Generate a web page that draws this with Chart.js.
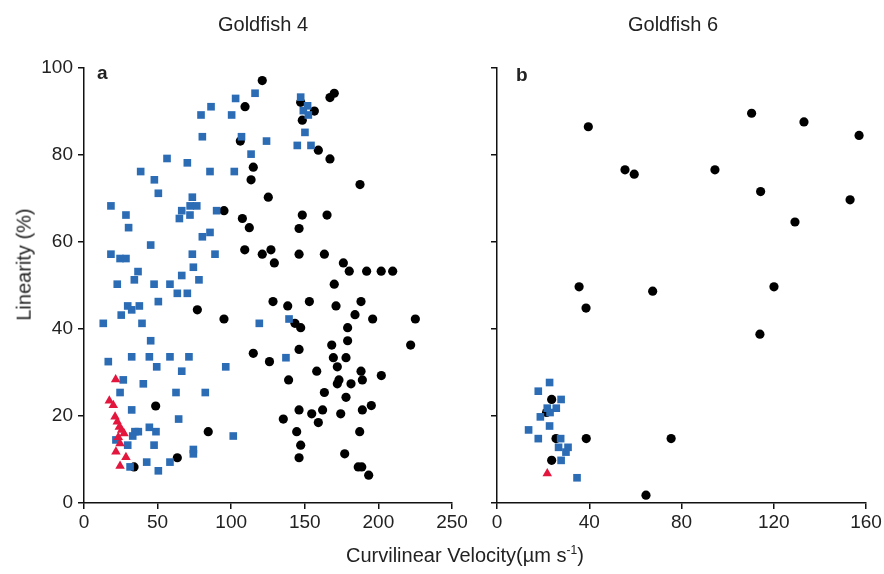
<!DOCTYPE html>
<html>
<head>
<meta charset="utf-8">
<script src="https://cdn.jsdelivr.net/npm/chart.js@4"></script>
<style>
  body { margin: 0; background: #fff; font-family: 'Liberation Sans', Arial, sans-serif; color: #222; }
  #wrap { position: relative; width: 884px; height: 574px; overflow: hidden; }
  canvas { position: absolute; top: 0; }
  .txt { position: absolute; white-space: nowrap; }
</style>
</head>
<body>
<div id="wrap">
  <canvas id="chartA" width="470" height="574" style="left:0"></canvas>
  <canvas id="chartB" width="414" height="574" style="left:470px"></canvas>
  <div class="txt" style="left:218px;top:13px;font-size:20px">Goldfish 4</div>
  <div class="txt" style="left:628px;top:13px;font-size:20px">Goldfish 6</div>
  <div class="txt" style="left:97px;top:62px;font-size:19px;font-weight:bold">a</div>
  <div class="txt" style="left:516px;top:64px;font-size:19px;font-weight:bold">b</div>
  <div class="txt" style="left:-32px;top:253px;font-size:20px;transform:rotate(-90deg);transform-origin:center">Linearity (%)</div>
  <div class="txt" style="left:346px;top:543px;font-size:20px">Curvilinear Velocity(µm s<sup style="font-size:12px">-1</sup>)</div>
</div>
<script>
// Goldfish 4 (panel a): [velocity, linearity]
var gf4Black = [
  [121.1,97.1],[109.4,91.1],[106.2,83.2],[115,77.2],[113.5,74.3],[125.2,70.3],[95.1,67.2],[107.6,65.4],
  [170,94.2],[167.1,93.2],[147.2,92.1],[156.5,90.1],[148.3,88],[159.2,81.1],[167.1,79.1],[187.5,73.2],
  [148.3,66.2],[165.1,66.2],[112.3,63.3],[109.2,58.2],[121.1,57.2],[77,44.4],[95.1,42.3],[115,34.4],
  [146.1,63.1],[127,58.2],[129.3,55.2],[146.1,57.2],[163.3,57.2],[176.2,55.2],[180.2,53.3],[192,53.3],
  [201.9,53.3],[209.7,53.3],[170,50.3],[128.4,46.3],[138.4,45.3],[153.1,46.3],[171.2,45.3],[188.2,46.3],
  [184.1,43.3],[196.1,42.3],[225.1,42.3],[143.3,41.3],[147.2,40.3],[179.1,40.3],[179.1,37.3],[168.3,36.3],
  [221.9,36.3],[146.1,35.3],[169.4,33.4],[178,33.4],[126,32.5],[48.7,22.3],[84.4,16.4],[63.4,10.4],[34,8.3],
  [158.1,30.3],[188.2,30.3],[172.1,31.3],[202,29.3],[139,28.3],[173.2,28.3],[172.1,27.4],[189.1,28.3],
  [181.4,27.4],[163.3,25.4],[178,24.3],[146.1,21.4],[154.7,20.5],[162.1,21.4],[174.4,20.5],[189.1,21.4],
  [195.2,22.4],[135.4,19.3],[159.2,18.5],[144.5,16.4],[187.3,16.4],[147.2,13.3],[146.1,10.4],[177.1,11.3],
  [186.3,8.3],[188.7,8.3],[193.4,6.4]
];
var gf4Blue = [
  [116.2,94.2],[103,93],[86.3,91.1],[79.5,89.2],[100.3,89.2],[80.4,84.2],[107,84.2],[124,83.2],[113.5,80.2],
  [56.4,79.2],[70.2,78.2],[38.5,76.2],[85.6,76.2],[102.1,76.2],[47.8,74.3],[50.5,71.2],[73.6,70.3],[18.3,68.3],
  [72.1,68.3],[76.6,68.3],[28.5,66.2],[66.4,67.2],[90.1,67.2],[72,66.2],[64.8,65.4],
  [147.2,93.3],[151.9,91.3],[149,90.2],[152.4,89.2],[150.1,85.2],[144.9,82.2],[154.2,82.2],
  [30.3,63.3],[85.6,62.2],[80.4,61.2],[45.3,59.3],[18.3,57.2],[24.5,56.2],[28.5,56.2],[73.6,57.2],[89,57.2],
  [74.3,54.2],[36.7,53.2],[34.2,51.3],[66.4,52.3],[78.1,51.3],[22.6,50.3],[47.6,50.3],[58.4,50.3],[63.4,48.2],
  [70.2,48.2],[50.5,46.3],[29.7,45.3],[32.4,44.4],[37.6,45.3],[25.3,43.2],[13.1,41.3],[39.4,41.3],[119.1,41.3],
  [45.3,37.3],[16.5,32.5],[32.4,33.6],[44.4,33.6],[58.4,33.6],[71.3,33.6],[139.3,42.3],[137.2,33.4],
  [49.4,31.3],[66.4,30.3],[96.3,31.3],[26.7,28.3],[40.3,27.4],[24.5,25.4],[62.5,25.4],[82.4,25.4],[32.4,21.4],
  [64.3,19.3],[36.9,16.4],[34.6,16.4],[44.4,17.4],[48.9,16.4],[33.1,15.4],[21.7,14.5],[29.7,13.3],[47.6,13.3],
  [101.4,15.4],[74.3,12.3],[74.3,11.3],[42.6,9.4],[58.4,9.4],[31.3,8.3],[50.5,7.4]
];
var gf4Red = [
  [21.5,28.4],[17.2,23.5],[19.9,22.5],[21.1,19.8],[22.6,18.7],[24,17.5],[25.6,16.8],[27.2,16],
  [23.3,15.1],[24.5,13.7],[21.7,11.8],[28.5,10.5],[24.5,8.5]
];

// Goldfish 6 (panel b)
var gf6Black = [
  [39.6,86.5],[110.4,89.6],[133.1,87.6],[157,84.5],[55.5,76.6],[59.5,75.6],[94.5,76.6],[114.3,71.6],
  [153.1,69.7],[129.2,64.6],[35.6,49.7],[38.6,44.8],[67.5,48.7],[120.1,49.7],[114,38.8],[23.7,23.8],
  [25.6,14.8],[38.7,14.8],[75.5,14.8],[23.7,9.8],[64.6,1.8],[21.5,20.8]
];
var gf6Blue = [
  [22.8,27.7],[17.9,25.7],[27.8,23.8],[21.8,21.8],[25.7,21.8],[23,20.8],[18.8,19.8],[22.8,17.7],
  [13.7,16.8],[17.9,14.8],[27.6,14.8],[26.7,12.8],[30.8,12.8],[29.9,11.7],[27.8,9.8],[34.7,5.8]
];
var gf6Red = [[21.8,6.8]];

var xTicksA = [0, 50, 100, 150, 200, 250];
var xTicksB = [0, 40, 80, 120, 160];
var yTicks = [0, 20, 40, 60, 80, 100];

var toPoints = function(arr) {
  return arr.map(function(p) { return {x: p[0], y: p[1]}; });
};

var makeSets = function(red, blue, black) {
  return [
    {data: toPoints(red), pointStyle: 'triangle', pointRadius: 5.5, backgroundColor: '#e3173e', borderWidth: 0, clip: false},
    {data: toPoints(blue), pointStyle: 'rect', pointRadius: 5.4, backgroundColor: '#2b6cb5', borderWidth: 0, clip: false},
    {data: toPoints(black), pointStyle: 'circle', pointRadius: 4.6, backgroundColor: '#000', borderWidth: 0, clip: false}
  ];
};

var axisStyle = {
  border: {display: true, color: '#111', width: 1.5},
  grid: {drawOnChartArea: false, tickLength: 6, color: '#111', lineWidth: 1.5}
};

var createChart = function(id, sets, xTicks, yAxisWidth, showYLabels, rightPad) {
  var ctx = document.getElementById(id).getContext('2d');
  return new Chart(ctx, {
    type: 'scatter',
    data: {datasets: sets},
    options: {
      responsive: false,
      devicePixelRatio: 1,
      animation: false,
      layout: {padding: {top: 68, right: rightPad, bottom: 0, left: 0}},
      plugins: {legend: {display: false}, tooltip: {enabled: false}},
      scales: {
        x: {
          type: 'linear',
          min: xTicks[0],
          max: xTicks[xTicks.length - 1],
          afterBuildTicks: function(scale) { scale.ticks = xTicks.map(function(v) { return {value: v}; }); },
          afterFit: function(scale) { scale.height = 71; },
          ticks: {font: {family: 'Liberation Sans', size: 19}, color: '#222', padding: 2, maxRotation: 0},
          border: axisStyle.border,
          grid: axisStyle.grid
        },
        y: {
          type: 'linear',
          min: 0,
          max: 100,
          afterBuildTicks: function(scale) { scale.ticks = yTicks.map(function(v) { return {value: v}; }); },
          afterFit: function(scale) { scale.width = yAxisWidth; },
          ticks: {display: showYLabels, font: {family: 'Liberation Sans', size: 19}, color: '#222', padding: 5},
          border: axisStyle.border,
          grid: axisStyle.grid
        }
      }
    }
  });
};

createChart('chartA', makeSets(gf4Red, gf4Blue, gf4Black), xTicksA, 84, true, 18);
createChart('chartB', makeSets(gf6Red, gf6Blue, gf6Black), xTicksB, 27, false, 18);
</script>
</body>
</html>
